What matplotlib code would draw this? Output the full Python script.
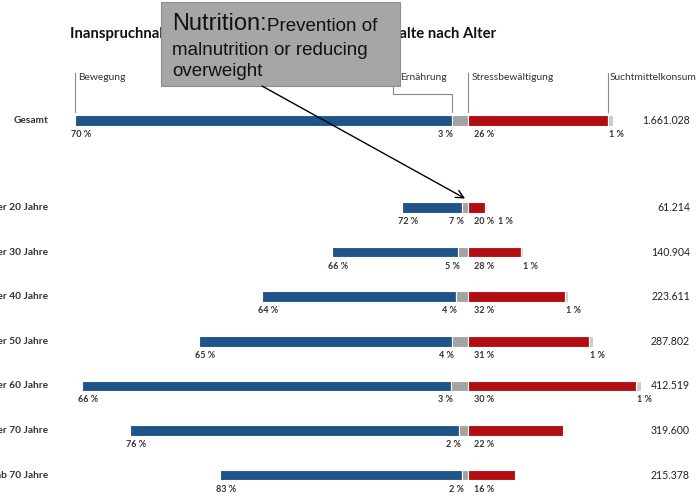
import matplotlib.pyplot as plt
from matplotlib.patches import Rectangle

# Inanspruchnahme nach Kursinhalt und Alter
gruppen = ["Gesamt", "unter 20 Jahre", "unter 30 Jahre", "unter 40 Jahre",
           "unter 50 Jahre", "unter 60 Jahre", "unter 70 Jahre", "ab 70 Jahre"]
teilnehmer = [1661028, 61214, 140904, 223611, 287802, 412519, 319600, 215378]
bewegung = [70, 72, 66, 64, 65, 66, 76, 83]
ernaehrung = [3, 7, 5, 4, 4, 3, 2, 2]
stress = [26, 20, 28, 32, 31, 30, 22, 16]
sucht = [1, 1, 1, 1, 1, 1, 0, 0]

felder = ["Bewegung", "Ernährung", "Stressbewältigung", "Suchtmittelkonsum"]

BLAU = "#1f5488"
ROT = "#b20e12"
GRAU = "#a3a3a3"
HELLGRAU = "#cccccc"
TXT = "#333333"

W, H = 698, 497
MITTE = 468          # pixel position of the Ernährung/Stress boundary
SKALA = 1.356        # px per 1000 participants (age rows)
GESAMT_FAKTOR = 0.239  # the Gesamt row is drawn on its own, smaller scale

plt.rcParams['font.family'] = ['Lato', 'DejaVu Sans']

fig = plt.figure(figsize=(W / 100, H / 100), dpi=100)
ax = fig.add_axes([0, 0, 1, 1])
ax.set_xlim(-MITTE / SKALA, (W - MITTE) / SKALA)
ax.set_ylim(H, 0)
ax.axis('off')


def dx(px):
    return (px - MITTE) / SKALA


zeilen_y = [120.5] + [207.5 + 44.6 * i for i in range(7)]
balken_h = 10.5

segmente = []
for i, g in enumerate(gruppen):
    f = GESAMT_FAKTOR if i == 0 else 1.0
    n = teilnehmer[i] / 1000 * f
    b = n * bewegung[i] / 100
    e = n * ernaehrung[i] / 100
    s = n * stress[i] / 100
    u = n * sucht[i] / 100
    y = zeilen_y[i]
    ax.barh(y, b, left=-e - b, height=balken_h, color=BLAU, edgecolor='white', linewidth=0.8)
    ax.barh(y, e, left=-e, height=balken_h, color=GRAU, edgecolor='white', linewidth=0.8)
    ax.barh(y, s, left=0, height=balken_h, color=ROT, edgecolor='white', linewidth=0.8)
    if u > 0:
        ax.barh(y, u, left=s, height=balken_h, color=HELLGRAU, edgecolor='white', linewidth=0.8)
    segmente.append((b, e, s, u))

    ly = y + 14
    kw = dict(fontsize=6.5, fontweight='bold', color=TXT, va='center',
              textcoords='offset points')
    ax.annotate(f"{bewegung[i]} %", xy=(-e - b, ly), xytext=(-3, 0), ha='left', **kw)
    ax.annotate(f"{ernaehrung[i]} %", xy=(-e, ly), xytext=(1, 0), ha='right', **kw)
    ax.annotate(f"{stress[i]} %", xy=(0, ly), xytext=(4, 0), ha='left', **kw)
    if sucht[i] > 0:
        # keep clear of the Stress label on short bars
        ax.annotate(f"{sucht[i]} %", xy=(max(s, dx(497)), ly), xytext=(1, 0),
                    ha='left', **kw)

    ax.text(dx(48), y, g, ha='right', va='center', fontsize=7.3,
            fontweight='bold', color=TXT)
    ax.text(dx(690), y, f"{teilnehmer[i]:,}".replace(",", "."), ha='right',
            va='center', fontsize=7.6, color='#222222')

# header labels with guide lines, taken from the Gesamt row
b0, e0, s0, u0 = segmente[0]
lc = dict(color='#8a8a8a', lw=0.8)
ax.plot([-e0 - b0] * 2, [73, 112], **lc)
ax.plot([dx(393), dx(393), -e0, -e0], [73, 94, 94, 112], **lc)
ax.plot([0, 0], [73, 112], **lc)
ax.plot([s0, s0], [73, 112], **lc)
hk = dict(fontsize=7.4, color=TXT, va='center', ha='left', textcoords='offset points')
ax.annotate(felder[0], xy=(-e0 - b0, 78), xytext=(2, 0), **hk)
ax.annotate(felder[1], xy=(dx(393), 78), xytext=(5, 0), **hk)
ax.annotate(felder[2], xy=(0, 78), xytext=(3, 0), **hk)
ax.annotate(felder[3], xy=(s0, 78), xytext=(1.5, 0), **hk)

ax.text(dx(70), 34, "Inanspruchnahme individueller Kursangebote: Inhalte nach Alter",
        ha='left', va='center', fontsize=10.7, fontweight='bold', color='#111111')

# callout box
ax.add_patch(Rectangle((dx(161), 2), (400 - 161) / SKALA, 84, facecolor='#a6a6a6',
                       edgecolor='#8e8e8e', lw=0.8, zorder=5))
bk = dict(family=['Liberation Sans', 'DejaVu Sans'], color='#111111', zorder=6)
t1 = ax.text(dx(172), 30, "Nutrition:", fontsize=17, va='baseline', ha='left', **bk)
ax.annotate("Prevention of", xy=(1, 0), xycoords=t1, va='bottom', ha='left',
            fontsize=13.5, **bk)
ax.text(dx(172), 55, "malnutrition or reducing", fontsize=13.5, va='baseline', ha='left', **bk)
ax.text(dx(172), 76, "overweight", fontsize=13.5, va='baseline', ha='left', **bk)

ax.annotate("", xy=(-segmente[1][1] / 2, zeilen_y[1] - 9), xytext=(dx(262), 86),
            arrowprops=dict(arrowstyle='->', color='black', lw=1, mutation_scale=14,
                            shrinkA=0, shrinkB=0), zorder=6)

fig.savefig("out.png", dpi=100)
